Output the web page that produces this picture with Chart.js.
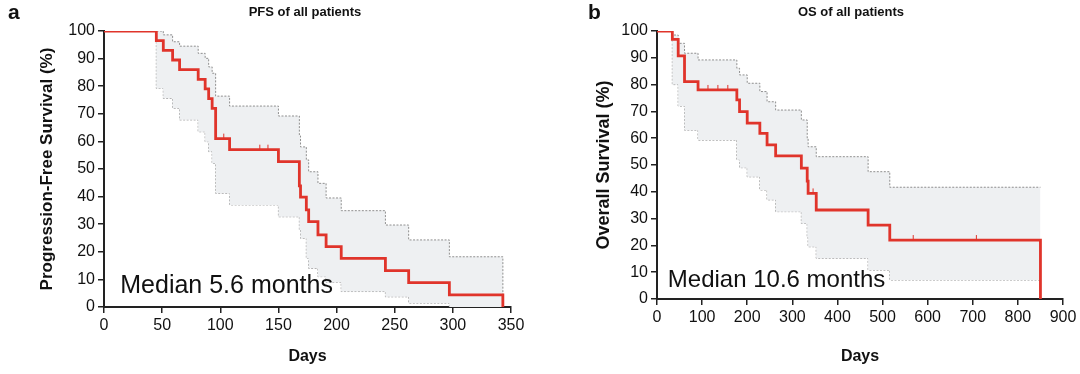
<!DOCTYPE html>
<html>
<head>
<meta charset="utf-8">
<script src="https://cdn.jsdelivr.net/npm/chart.js@4.4.0/dist/chart.umd.min.js"></script>
<style>
  html, body { margin: 0; padding: 0; background: #fff; }
  body { width: 1080px; height: 374px; position: relative; overflow: hidden; }
  .panel { position: absolute; top: 0; width: 540px; height: 374px; }
  #pfsPanel { left: 0; }
  #osPanel { left: 540px; }
</style>
</head>
<body>
<div class="panel" id="pfsPanel"><canvas id="pfsChart" width="540" height="374"></canvas></div>
<div class="panel" id="osPanel"><canvas id="osChart" width="540" height="374"></canvas></div>
<script>
// tick labels
var yTicks = [0, 10, 20, 30, 40, 50, 60, 70, 80, 90, 100];
var pfsXTicks = [0, 50, 100, 150, 200, 250, 300, 350];
var osXTicks = [0, 100, 200, 300, 400, 500, 600, 700, 800, 900];

// PFS: Kaplan-Meier estimate with 95% band (days, %)
var pfsDays  = [0, 45, 51, 59, 65, 81, 87, 90, 93, 96, 108, 150, 168, 169, 174, 176, 184, 191, 204, 242, 262, 297, 343];
var pfsSurv  = [100, 96.5, 93.0, 89.5, 86.0, 82.5, 79.0, 75.5, 72.0, 61.0, 57.0, 52.7, 43.9, 39.8, 35.2, 30.9, 26.1, 21.9, 17.6, 13.2, 8.8, 4.4, 0];
var pfsUpper = [100, 100, 98.6, 96.1, 94.5, 91.9, 90.1, 87.0, 84.7, 76.4, 72.8, 69.2, 62.0, 58.0, 53.3, 49.0, 44.8, 39.5, 34.9, 29.7, 24.3, 18.2, 0];
var pfsLower = [100, 79.2, 75.6, 72.0, 67.8, 63.5, 59.9, 56.3, 52.0, 41.2, 37.0, 32.7, 28.0, 24.9, 17.6, 14.0, 11.0, 9.0, 5.6, 3.7, 1.4, 0, 0];
var pfsCensorDays = [36, 103, 134, 141];
var pfsCensorSurv = [100, 61.0, 57.0, 57.0];

// OS
var osDays  = [0, 34, 47, 61, 91, 177, 183, 200, 228, 244, 263, 320, 333, 335, 353, 468, 516, 850];
var osSurv  = [100, 96.9, 90.7, 81.1, 78.0, 74.3, 69.9, 65.6, 61.8, 57.5, 53.4, 48.8, 44.0, 39.4, 33.2, 27.6, 22.0, 0];
var osUpper = [100, 98.5, 95.4, 91.7, 89.2, 86.1, 83.6, 80.5, 77.4, 73.6, 70.5, 66.8, 60.0, 56.8, 53.1, 47.5, 41.7, 41.7];
var osLower = [100, 80.0, 72.0, 63.0, 59.3, 52.0, 49.0, 45.6, 40.7, 37.0, 32.6, 28.2, 23.0, 19.5, 15.2, 10.8, 7.1, 7.1];
var osCensorDays = [113, 135, 157, 346, 568, 708];
var osCensorSurv = [78.0, 78.0, 78.0, 39.4, 22.0, 22.0];

var FONT = '"Liberation Sans", Arial, sans-serif';
var RED = '#e0342b';

function toPoints(xs, ys) {
  return xs.map(function(x, i) { return { x: x, y: ys[i] }; });
}

// letter, title and median note
var panelText = {
  id: 'panelText',
  afterDraw: function(chart, args, opts) {
    var ctx = chart.ctx;
    ctx.save();
    ctx.fillStyle = '#111';
    ctx.textBaseline = 'middle';
    ctx.textAlign = 'left';
    ctx.font = 'bold 21px ' + FONT;
    ctx.fillText(opts.letter, opts.letterX, 13);
    ctx.textAlign = 'center';
    ctx.font = 'bold 13px ' + FONT;
    ctx.fillText(opts.title, opts.titleX, 12);
    ctx.textAlign = 'left';
    ctx.font = opts.medianSize + 'px ' + FONT;
    ctx.fillText(opts.median, chart.scales.x.getPixelForValue(opts.medianAt[0]),
      chart.scales.y.getPixelForValue(opts.medianAt[1]));
    ctx.restore();
  }
};

function makeChart(id, d) {
  var ctx = document.getElementById(id).getContext('2d');
  return new Chart(ctx, {
    type: 'line',
    data: {
      datasets: [
        {
          data: toPoints(d.censorDays, d.censorSurv),
          showLine: false,
          pointStyle: 'dash',
          rotation: 270,
          pointRadius: 5,
          borderColor: RED,
          borderWidth: 1,
          order: 0
        },
        {
          data: toPoints(d.days, d.surv),
          stepped: 'before',
          borderColor: RED,
          borderWidth: 2.8,
          pointRadius: 0,
          fill: false,
          order: 1
        },
        {
          data: toPoints(d.days, d.upper),
          stepped: 'before',
          borderColor: '#8f8f8f',
          borderWidth: 1,
          borderDash: [2, 1.5],
          pointRadius: 0,
          backgroundColor: '#eef0f2',
          fill: '+1',
          order: 2
        },
        {
          data: toPoints(d.days, d.lower),
          stepped: 'before',
          borderColor: '#8f8f8f',
          borderWidth: 1,
          borderDash: [2, 1.5],
          pointRadius: 0,
          fill: false,
          order: 3
        }
      ]
    },
    options: {
      responsive: false,
      animation: false,
      devicePixelRatio: 1,
      events: [],
      layout: { padding: { left: 0, top: 31, right: d.padRight, bottom: 0 } },
      plugins: {
        legend: { display: false },
        tooltip: { enabled: false },
        panelText: d.text
      },
      scales: {
        x: {
          type: 'linear',
          min: 0,
          max: d.xTicks[d.xTicks.length - 1],
          afterBuildTicks: function(s) { s.ticks = d.xTicks.map(function(v) { return { value: v }; }); },
          afterFit: function(s) { s.height = d.xHeight; },
          ticks: { font: { family: FONT, size: d.tickSize }, color: '#111', padding: 3, maxRotation: 0, autoSkip: false },
          grid: { drawOnChartArea: false, tickLength: 6, color: '#222', lineWidth: 1.5 },
          border: { color: '#222', width: 2 },
          title: { display: true, text: 'Days', color: '#111', font: { family: FONT, size: 16, weight: 'bold' }, padding: { top: 0, bottom: 8 } }
        },
        y: {
          min: 0,
          max: 100,
          afterBuildTicks: function(s) { s.ticks = yTicks.map(function(v) { return { value: v }; }); },
          afterFit: function(s) { s.width = d.yWidth; },
          ticks: { font: { family: FONT, size: d.tickSize }, color: '#111', padding: 3 },
          grid: { drawOnChartArea: false, tickLength: 6, color: '#222', lineWidth: 1.5 },
          border: { color: '#222', width: 2 },
          title: { display: true, text: d.yTitle, color: '#111', font: { family: FONT, size: d.yTitleSize, weight: 'bold' }, padding: { top: d.yTitlePad, bottom: 0 } }
        }
      }
    },
    plugins: [panelText]
  });
}

makeChart('pfsChart', {
  days: pfsDays, surv: pfsSurv, upper: pfsUpper, lower: pfsLower,
  censorDays: pfsCensorDays, censorSurv: pfsCensorSurv,
  xTicks: pfsXTicks, yTitle: 'Progression-Free Survival (%)',
  yWidth: 104, xHeight: 67, padRight: 29, tickSize: 16, yTitleSize: 17, yTitlePad: 37,
  text: { letter: 'a', letterX: 8, title: 'PFS of all patients', titleX: 305,
          median: 'Median 5.6 months', medianAt: [14, 7.5], medianSize: 25 }
});

makeChart('osChart', {
  days: osDays, surv: osSurv, upper: osUpper, lower: osLower,
  censorDays: osCensorDays, censorSurv: osCensorSurv,
  xTicks: osXTicks, yTitle: 'Overall Survival (%)',
  yWidth: 117, xHeight: 75, padRight: 17, tickSize: 16, yTitleSize: 18, yTitlePad: 53,
  text: { letter: 'b', letterX: 48, title: 'OS of all patients', titleX: 311,
          median: 'Median 10.6 months', medianAt: [24, 7.1], medianSize: 24 }
});
</script>
</body>
</html>
